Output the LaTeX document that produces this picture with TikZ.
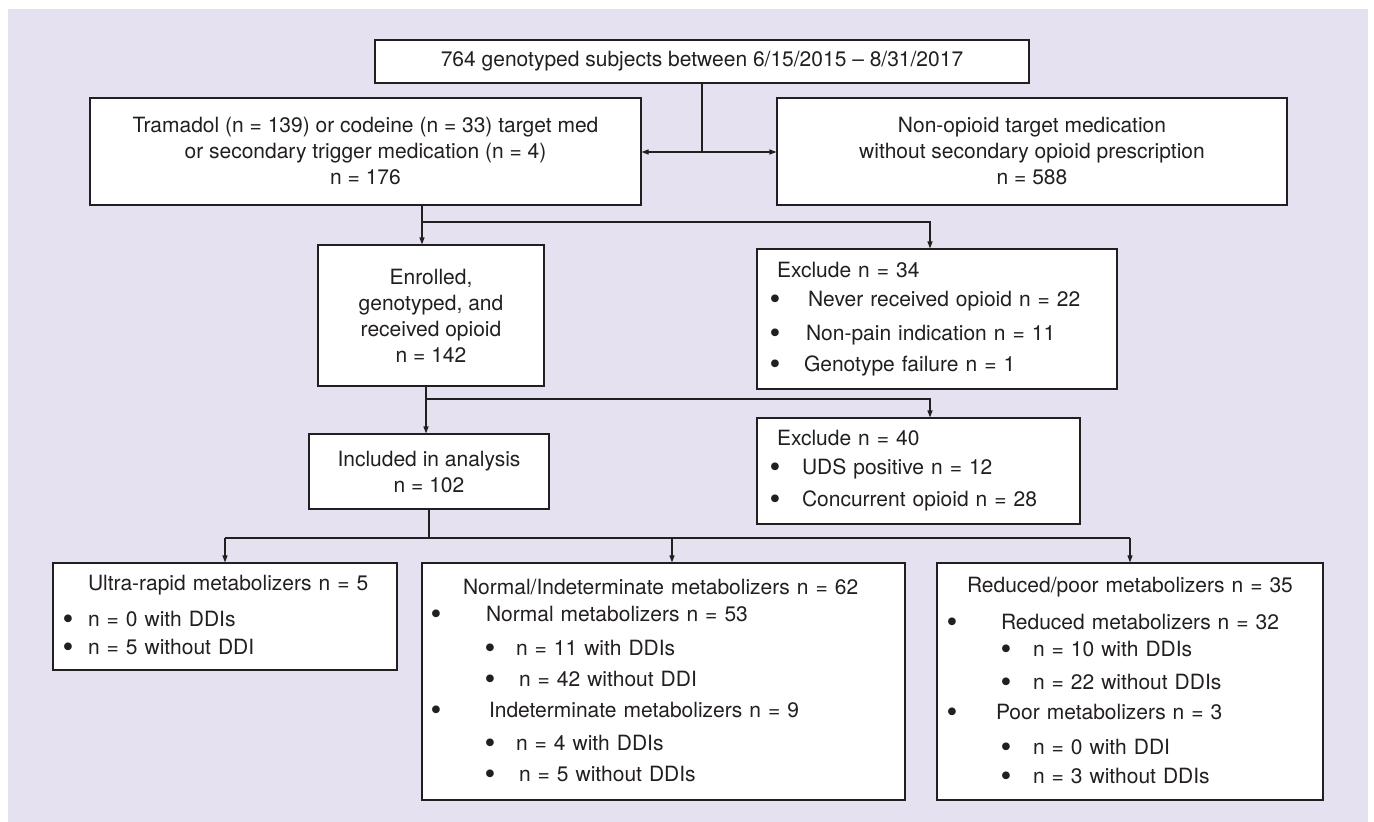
\documentclass[tikz,border=0pt]{standalone}
\usepackage{fontspec}
\setmainfont{TeX Gyre Heros}
\usetikzlibrary{arrows.meta}
\definecolor{bgpurple}{RGB}{230,225,240}
\definecolor{ink}{RGB}{35,31,32}
\newcommand{\hdr}[2]{\hspace*{#1pt}#2}
\newcommand{\itm}[3]{\makebox[0pt][l]{\hspace*{\dimexpr#1pt-5.4pt\relax}\raisebox{-3pt}{\fontsize{31}{26}\selectfont\textbullet}}\hspace*{#2pt}#3}

\begin{document}
\begin{tikzpicture}[x=1pt,y=-1pt,
  box/.style={draw=ink,line width=1.1pt,fill=white,text=ink,inner sep=0pt,
    font=\fontsize{21}{26}\selectfont},
  link/.style={draw=ink,line width=1.1pt},
  arr/.style={link,-{Triangle[length=7pt,width=5pt]}}]
  \useasboundingbox (0,0) rectangle (1374,822);
  \fill[white] (0,0) rectangle (1374,822);
  \fill[bgpurple] (8,9) rectangle (1368,822);

  \node[box,minimum width=654pt,minimum height=43pt] (top) at (702,61.5)
    {764 genotyped subjects between 6/15/2015 – 8/31/2017};
  \node[box,align=center,minimum width=551pt,minimum height=107pt] (tram) at (365.5,151.5)
    {Tramadol (n = 139) or codeine (n = 33) target med\\or secondary trigger medication (n = 4)\\n = 176};
  \node[box,align=center,minimum width=510pt,minimum height=107pt] (nonop) at (1032,151.5)
    {Non-opioid target medication\\without secondary opioid prescription\\n = 588};
  \node[box,align=center,minimum width=226pt,minimum height=141pt] (enrol) at (431,315.5)
    {Enrolled,\\genotyped, and\\received opioid\\n = 142};
  \node[box,align=left,text width=360pt,minimum height=140pt] (excl1) at (937,319)
    {\hdr{20}{Exclude n = 34}\\[3pt]
     \itm{18}{51}{Never received opioid n = 22}\\[8pt]
     \itm{18}{49}{Non-pain indication n = 11}\\[5pt]
     \itm{18}{47}{Genotype failure n = 1}};
  \node[box,align=center,minimum width=240pt,minimum height=75pt] (incl) at (429,471.5)
    {Included in analysis\\n = 102};
  \node[box,align=left,text width=323pt,minimum height=106pt] (excl2) at (918.5,471)
    {\hdr{20}{Exclude n = 40}\\[3pt]
     \itm{18}{45}{UDS positive n = 12}\\[6pt]
     \itm{18}{45}{Concurrent opioid n = 28}};
  \node[box,align=left,text width=344pt,minimum height=107pt] (ultra) at (225,616.5)
    {\hdr{35}{Ultra-rapid metabolizers n = 5}\\[10pt]
     \itm{15}{35}{n = 0 with DDIs}\\[2pt]
     \itm{15}{35}{n = 5 without DDI}};
  \node[box,align=left,text width=483pt,minimum height=237pt] (normal) at (663.5,681.5)
    {\hdr{41}{Normal/Indeterminate metabolizers n = 62}\\[1pt]
     \itm{14}{64}{Normal metabolizers n = 53}\\[8pt]
     \itm{68}{94}{n = 11 with DDIs}\\[5pt]
     \itm{68}{97}{n = 42 without DDI}\\[5pt]
     \itm{14}{67}{Indeterminate metabolizers n = 9}\\[7pt]
     \itm{68}{94}{n = 4 with DDIs}\\[5pt]
     \itm{68}{97}{n = 5 without DDIs}};
  \node[box,align=left,text width=386pt,minimum height=237pt] (reduced) at (1130,681.5)
    {\hdr{30}{Reduced/poor metabolizers n = 35}\\[11pt]
     \itm{15}{64}{Reduced metabolizers n = 32}\\[1pt]
     \itm{69}{96}{n = 10 with DDIs}\\[7pt]
     \itm{69}{96}{n = 22 without DDIs}\\[4pt]
     \itm{15}{59}{Poor metabolizers n = 3}\\[9pt]
     \itm{69}{96}{n = 0 with DDI}\\[3pt]
     \itm{69}{96}{n = 3 without DDIs}};

  \coordinate (s0) at (702,152);
  \draw[link] (top.south -| s0) -- (s0);
  \draw[arr] (s0) -- (s0 -| tram.east);
  \draw[arr] (s0) -- (s0 -| nonop.west);

  \coordinate (s1) at (422,222);
  \coordinate (e1) at (930,222);
  \draw[arr] (tram.south -| s1) -- (enrol.north -| s1);
  \draw[arr] (s1) -- (e1) -- (excl1.north -| e1);

  \coordinate (s2) at (426,399);
  \coordinate (e2) at (930,399);
  \draw[arr] (enrol.south -| s2) -- (incl.north -| s2);
  \draw[arr] (s2) -- (e2) -- (excl2.north -| e2);

  \coordinate (s3) at (429,538);
  \coordinate (s4) at (672,538);
  \draw[link] (incl.south -| s3) -- (s3);
  \draw[link] (ultra.north |- s3) -- (reduced.north |- s3);
  \draw[arr] (ultra.north |- s3) -- (ultra.north);
  \draw[arr] (s4) -- (normal.north -| s4);
  \draw[arr] (reduced.north |- s3) -- (reduced.north);
\end{tikzpicture}
\end{document}
